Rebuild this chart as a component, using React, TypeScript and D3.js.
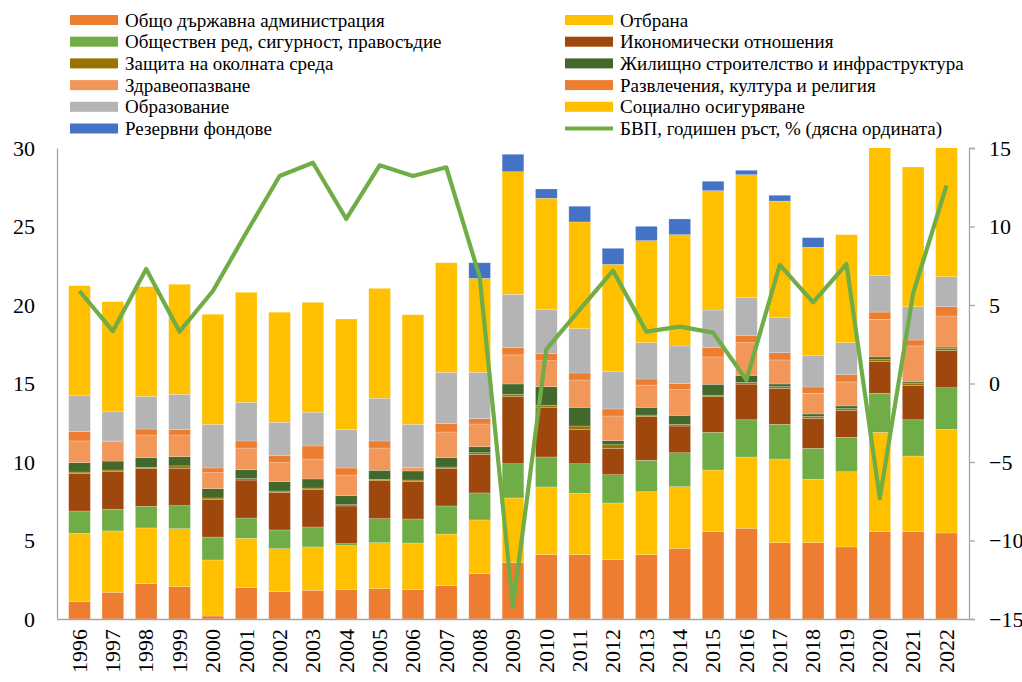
import React, { useEffect, useRef } from "react"
import * as d3 from "d3"

const WIDTH = 1022
const HEIGHT = 682

const years = [
  "1996", "1997", "1998", "1999", "2000", "2001", "2002", "2003", "2004", "2005",
  "2006", "2007", "2008", "2009", "2010", "2011", "2012", "2013", "2014", "2015",
  "2016", "2017", "2018", "2019", "2020", "2021", "2022",
]

// stack order, bottom to top
const generalAdmin = [1.1, 1.7, 2.25, 2.06, 0.19, 2.0, 1.74, 1.83, 1.89, 1.93, 1.87, 2.12, 2.89, 3.59, 4.1, 4.1, 3.78, 4.1, 4.5, 5.56, 5.78, 4.86, 4.86, 4.59, 5.56, 5.56, 5.48]
const defence = [4.36, 3.91, 3.55, 3.69, 3.57, 3.14, 2.74, 2.76, 2.78, 2.93, 2.97, 3.29, 3.42, 4.12, 4.31, 3.91, 3.61, 4.01, 3.93, 3.93, 4.54, 5.33, 4.04, 4.79, 6.33, 4.82, 6.6]
const publicOrder = [1.42, 1.38, 1.38, 1.47, 1.46, 1.29, 1.19, 1.27, 0.13, 1.53, 1.53, 1.79, 1.72, 2.18, 1.91, 1.88, 1.8, 2.0, 2.16, 2.4, 2.37, 2.21, 1.97, 2.19, 2.49, 2.31, 2.65]
const economic = [2.4, 2.39, 2.42, 2.38, 2.4, 2.42, 2.4, 2.4, 2.4, 2.42, 2.38, 2.4, 2.46, 4.27, 3.14, 2.19, 1.68, 2.78, 1.7, 2.27, 2.27, 2.29, 1.91, 1.72, 2.01, 2.17, 2.36]
const environment = [0.08, 0.11, 0.06, 0.15, 0.09, 0.09, 0.08, 0.08, 0.08, 0.09, 0.1, 0.08, 0.1, 0.15, 0.15, 0.21, 0.23, 0.1, 0.11, 0.1, 0.11, 0.11, 0.13, 0.11, 0.13, 0.13, 0.13]
const housing = [0.6, 0.57, 0.61, 0.59, 0.59, 0.57, 0.6, 0.58, 0.57, 0.57, 0.58, 0.59, 0.38, 0.66, 1.19, 1.19, 0.26, 0.49, 0.57, 0.69, 0.45, 0.17, 0.15, 0.17, 0.17, 0.11, 0.1]
const health = [1.38, 1.23, 1.45, 1.38, 1.02, 1.38, 1.21, 1.27, 1.32, 1.42, 0.23, 1.64, 1.45, 1.85, 1.65, 1.74, 1.57, 1.42, 1.64, 1.74, 2.08, 1.53, 1.32, 1.53, 2.4, 2.29, 1.98]
const recreation = [0.59, 0.05, 0.38, 0.34, 0.3, 0.45, 0.44, 0.83, 0.45, 0.45, 0.0, 0.53, 0.34, 0.46, 0.45, 0.45, 0.45, 0.39, 0.38, 0.59, 0.47, 0.46, 0.4, 0.46, 0.46, 0.38, 0.59]
const education = [2.29, 1.86, 2.08, 2.25, 2.78, 2.46, 2.13, 2.15, 2.46, 2.72, 2.74, 3.27, 2.95, 3.4, 2.8, 2.82, 2.4, 2.31, 2.4, 2.4, 2.4, 2.23, 1.99, 2.04, 2.32, 2.12, 1.91]
const socialSecurity = [7.01, 7.01, 6.99, 7.01, 7.01, 7.01, 7.01, 7.0, 7.03, 7.0, 6.98, 6.98, 5.99, 7.81, 7.1, 6.8, 6.81, 6.5, 7.09, 7.6, 7.83, 7.43, 6.91, 6.88, 8.3, 8.9, 8.3]
const reserveFunds = [0, 0, 0, 0, 0, 0, 0, 0, 0, 0, 0, 0, 0.99, 1.11, 0.59, 1.0, 1.02, 0.91, 1.0, 0.6, 0.28, 0.37, 0.61, 0, 0, 0, 0]

const gdpGrowth = [5.89, 3.34, 7.29, 3.3, 5.89, 9.6, 13.22, 14.06, 10.48, 13.9, 13.22, 13.77, 6.8, -14.22, 2.18, 4.7, 7.19, 3.3, 3.62, 3.24, 0.22, 7.55, 5.17, 7.61, -7.31, 5.74, 12.6]

const leftTicks = [0, 5, 10, 15, 20, 25, 30]
const rightTicks = [-15, -10, -5, 0, 5, 10, 15]

const series = [
  { key: "admin", name: "Общо държавна администрация", color: "#ED7D31", values: generalAdmin },
  { key: "defence", name: "Отбрана", color: "#FFC000", values: defence },
  { key: "order", name: "Обществен ред, сигурност, правосъдие", color: "#70AD47", values: publicOrder },
  { key: "economic", name: "Икономически отношения", color: "#9E480E", values: economic },
  { key: "environment", name: "Защита на околната среда", color: "#997300", values: environment },
  { key: "housing", name: "Жилищно строителство и инфраструктура", color: "#43682B", values: housing },
  { key: "health", name: "Здравеопазване", color: "#F1975A", values: health },
  { key: "recreation", name: "Развлечения, култура и религия", color: "#ED7D31", values: recreation },
  { key: "education", name: "Образование", color: "#B4B4B4", values: education },
  { key: "social", name: "Социално осигуряване", color: "#FFC000", values: socialSecurity },
  { key: "reserve", name: "Резервни фондове", color: "#4472C4", values: reserveFunds },
]

const LINE_NAME = "БВП, годишен ръст, % (дясна ордината)"
const LINE_COLOR = "#70AD47"
const FONT = "Liberation Serif, DejaVu Serif, serif"

const App = () => {
  const svgRef = useRef(null)

  useEffect(() => {
    const svg = d3.select(svgRef.current)
    svg.selectAll("*").remove()

    const margin = { top: 148, right: 53, bottom: 63, left: 57 }
    const width = WIDTH - margin.left - margin.right
    const height = HEIGHT - margin.top - margin.bottom

    svg.append("defs").append("clipPath")
      .attr("id", "plot-clip")
      .append("rect")
      .attr("width", width)
      .attr("height", height)

    const g = svg.append("g").attr("transform", `translate(${margin.left},${margin.top})`)

    const x = d3.scaleBand().domain(years).range([0, width]).padding(0.35)
    const yLeft = d3.scaleLinear().domain([0, 30]).range([height, 0])
    const yRight = d3.scaleLinear().domain([-15, 15]).range([height, 0])

    const table = years.map((yr, i) => {
      const row = { year: yr }
      series.forEach((s) => { row[s.key] = s.values[i] })
      return row
    })
    const stacked = d3.stack().keys(series.map((s) => s.key))(table)

    const barsG = g.append("g").attr("clip-path", "url(#plot-clip)")
    stacked.forEach((layer, li) => {
      barsG.append("g")
        .attr("fill", series[li].color)
        .selectAll("rect")
        .data(layer)
        .join("rect")
        .attr("x", (d) => x(d.data.year))
        .attr("width", x.bandwidth())
        .attr("y", (d) => yLeft(d[1]))
        .attr("height", (d) => Math.max(0, yLeft(d[0]) - yLeft(d[1])))
        .attr("stroke", "#ffffff")
        .attr("stroke-opacity", 0.35)
        .attr("stroke-width", 0.6)
    })

    // axes
    const leftAxis = g.append("g")
      .call(d3.axisLeft(yLeft).tickValues(leftTicks).tickSize(0).tickPadding(22))
    leftAxis.attr("font-family", FONT).attr("font-size", 22)
    leftAxis.select(".domain").attr("stroke", "#A6A6A6").attr("stroke-width", 1.3)
    leftAxis.selectAll("text").attr("fill", "#000")

    const rightAxis = g.append("g")
      .attr("transform", `translate(${width},0)`)
      .call(d3.axisRight(yRight).tickValues(rightTicks).tickSize(6).tickPadding(14))
    rightAxis.attr("font-family", FONT).attr("font-size", 22)
    rightAxis.select(".domain").attr("stroke", "#A6A6A6").attr("stroke-width", 1.3)
    rightAxis.selectAll(".tick line").attr("stroke", "#A6A6A6").attr("stroke-width", 1.3)
    rightAxis.selectAll("text").attr("fill", "#000")

    const bottomAxis = g.append("g")
      .attr("transform", `translate(0,${height})`)
      .call(d3.axisBottom(x).tickSize(0).tickPadding(0))
    bottomAxis.attr("font-family", FONT).attr("font-size", 22)
    bottomAxis.select(".domain").attr("stroke", "#A6A6A6").attr("stroke-width", 1.3)
    bottomAxis.selectAll("text")
      .attr("fill", "#000")
      .attr("transform", "rotate(-90)")
      .attr("text-anchor", "end")
      .attr("x", -10)
      .attr("y", 0)
      .attr("dy", "0.33em")

    // GDP line
    const line = d3.line()
      .x((d, i) => x(years[i]) + x.bandwidth() / 2)
      .y((d) => yRight(d))
    g.append("path")
      .datum(gdpGrowth)
      .attr("fill", "none")
      .attr("stroke", LINE_COLOR)
      .attr("stroke-width", 4.2)
      .attr("stroke-linejoin", "round")
      .attr("d", line)

    // legend, two columns filled row by row
    const legendItems = [...series.map((s) => ({ name: s.name, color: s.color, type: "rect" })),
      { name: LINE_NAME, color: LINE_COLOR, type: "line" }]
    const legendG = svg.append("g").attr("font-family", FONT).attr("font-size", 19)
    legendItems.forEach((item, k) => {
      const col = k % 2
      const row = Math.floor(k / 2)
      const lx = col === 0 ? 70 : 565
      const ly = 20 + row * 21.7
      const ig = legendG.append("g").attr("transform", `translate(${lx},${ly})`)
      if (item.type === "rect") {
        ig.append("rect").attr("x", 0).attr("y", -5).attr("width", 48).attr("height", 10).attr("fill", item.color)
      } else {
        ig.append("line").attr("x1", 0).attr("x2", 48).attr("y1", 0).attr("y2", 0)
          .attr("stroke", item.color).attr("stroke-width", 4)
      }
      ig.append("text")
        .attr("x", 55)
        .attr("y", 0)
        .attr("dy", "0.35em")
        .attr("fill", "#000")
        .text(item.name)
    })
  }, [])

  return (
    <svg
      ref={svgRef}
      width={WIDTH}
      height={HEIGHT}
      style={{ position: "absolute", left: 0, top: 0, background: "#fff", display: "block" }}
    ></svg>
  )
}

export default App
